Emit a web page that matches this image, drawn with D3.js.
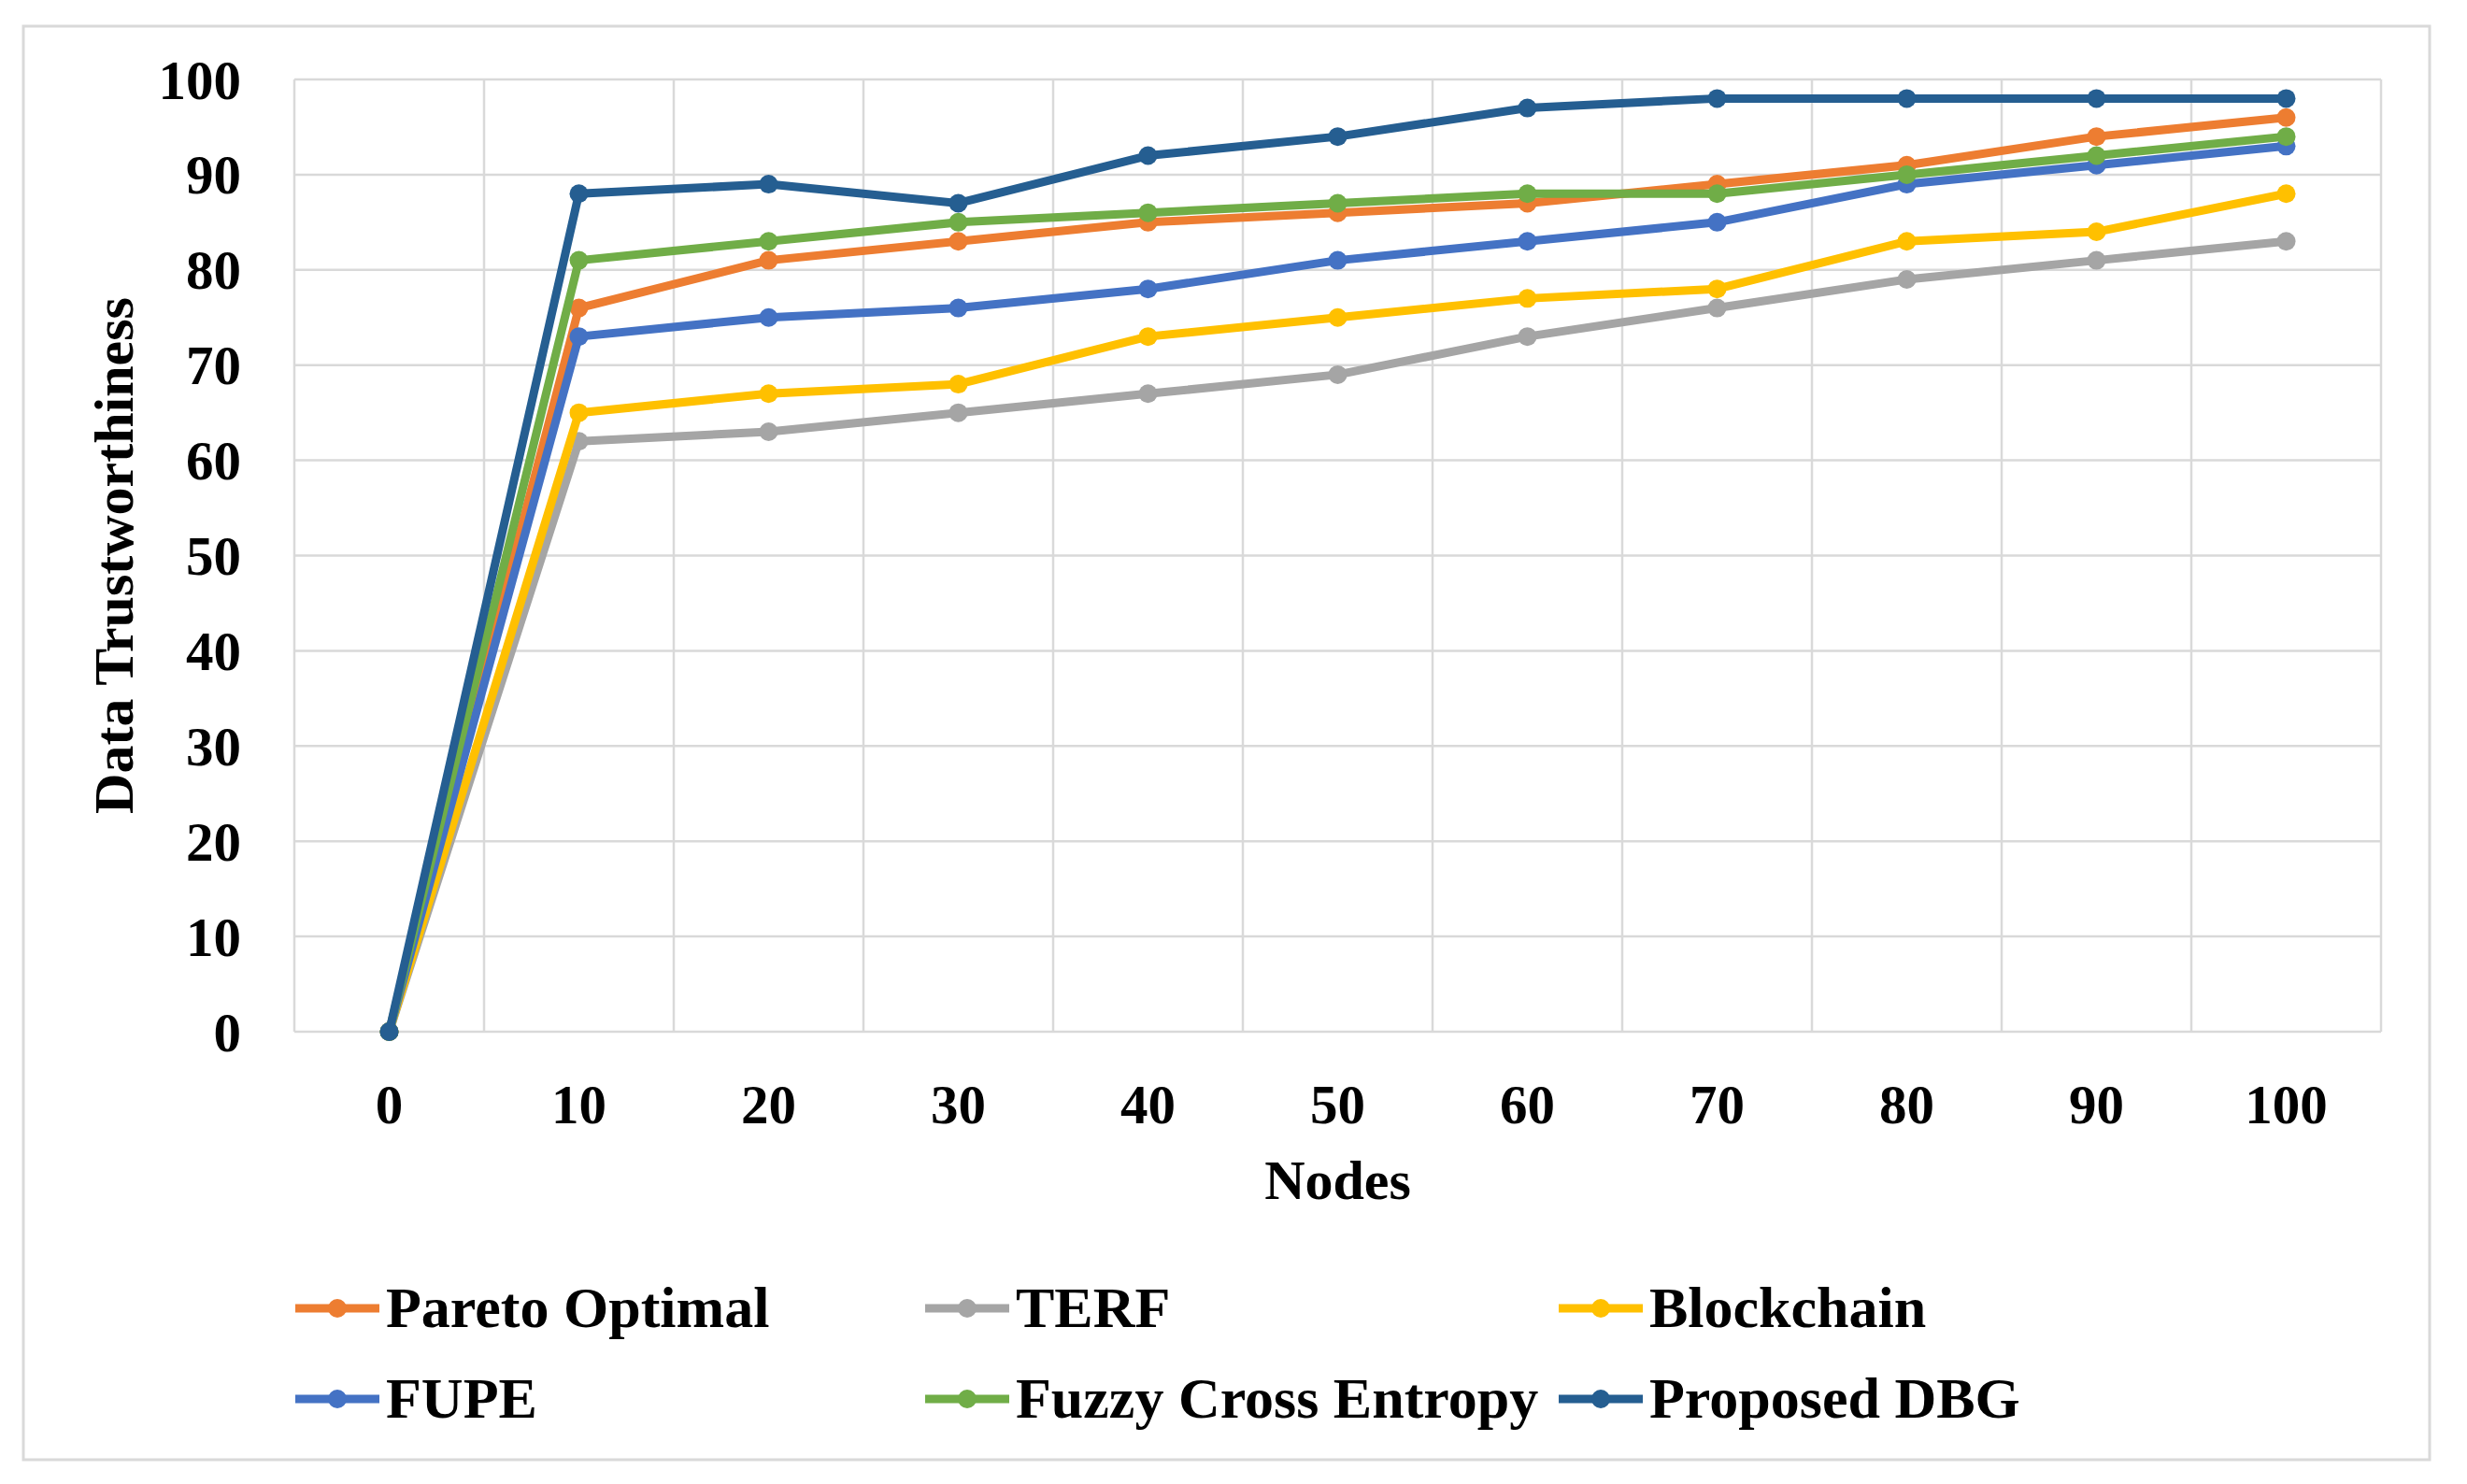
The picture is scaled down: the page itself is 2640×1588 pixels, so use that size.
<!DOCTYPE html>
<html>
<head>
<meta charset="utf-8">
<script src="https://cdn.jsdelivr.net/npm/d3@7/dist/d3.min.js"></script>
<style>
  html, body { margin: 0; padding: 0; background: #fff; }
  svg { display: block; }
  text { font-family: "Liberation Serif", "Times New Roman", serif; font-weight: bold; fill: #000; }
</style>
</head>
<body>
<svg id="chart" width="2640" height="1588"></svg>
<script>
const categories = ["0", "10", "20", "30", "40", "50", "60", "70", "80", "90", "100"];
const yTicks = [0, 10, 20, 30, 40, 50, 60, 70, 80, 90, 100];
const seriesNames = ["Pareto Optimal", "TERF", "Blockchain", "FUPE", "Fuzzy Cross Entropy", "Proposed DBG"];
const seriesColors = ["#ED7D31", "#A5A5A5", "#FFC000", "#4472C4", "#70AD47", "#255E91"];
const paretoOptimal = [0, 76, 81, 83, 85, 86, 87, 89, 91, 94, 96];
const terf = [0, 62, 63, 65, 67, 69, 73, 76, 79, 81, 83];
const blockchain = [0, 65, 67, 68, 73, 75, 77, 78, 83, 84, 88];
const fupe = [0, 73, 75, 76, 78, 81, 83, 85, 89, 91, 93];
const fuzzyCrossEntropy = [0, 81, 83, 85, 86, 87, 88, 88, 90, 92, 94];
const proposedDBG = [0, 88, 89, 87, 92, 94, 97, 98, 98, 98, 98];
const seriesValues = [paretoOptimal, terf, blockchain, fupe, fuzzyCrossEntropy, proposedDBG];

const svg = d3.select("#chart");
const plot = { left: 315, right: 2548, top: 85, bottom: 1104 };

// outer border
svg.append("rect").attr("x", 25).attr("y", 28).attr("width", 2575).attr("height", 1534)
  .attr("fill", "#fff").attr("stroke", "#d9d9d9").attr("stroke-width", 3);

const x = d3.scaleBand().domain(categories).range([plot.left, plot.right]).padding(0);
const y = d3.scaleLinear().domain([0, 100]).range([plot.bottom, plot.top]);

// gridlines
const grid = svg.append("g");
grid.selectAll("line.h").data(yTicks).join("line")
  .attr("x1", plot.left).attr("x2", plot.right)
  .attr("y1", d => y(d)).attr("y2", d => y(d))
  .attr("stroke", "#d9d9d9").attr("stroke-width", 2.5);
const bounds = categories.map(c => x(c)).concat([x(categories[categories.length - 1]) + x.bandwidth()]);
grid.selectAll("line.v").data(bounds).join("line")
  .attr("x1", d => d).attr("x2", d => d)
  .attr("y1", plot.top).attr("y2", plot.bottom)
  .attr("stroke", "#d9d9d9").attr("stroke-width", 2.5);

// axes
const yAxis = svg.append("g").attr("transform", `translate(${plot.left},0)`)
  .call(d3.axisLeft(y).tickValues(yTicks).tickSize(0).tickPadding(57));
yAxis.select(".domain").remove();
yAxis.selectAll("text").style("font-size", "59px").attr("dy", "0.34em");

const xAxis = svg.append("g").attr("transform", `translate(0,${plot.bottom})`)
  .call(d3.axisBottom(x).tickSize(0).tickPadding(56));
xAxis.select(".domain").remove();
xAxis.selectAll("text").style("font-size", "59px").attr("dy", "0.71em");

// axis titles
svg.append("text").attr("x", (plot.left + plot.right) / 2).attr("y", 1283)
  .attr("text-anchor", "middle").style("font-size", "60px").text("Nodes");
svg.append("text").attr("transform", `translate(142,${(plot.top + plot.bottom) / 2}) rotate(-90)`)
  .attr("text-anchor", "middle").style("font-size", "60px").text("Data Trustworthiness");

// lines
const line = d3.line().x((d, i) => x(categories[i]) + x.bandwidth() / 2).y(d => y(d));
seriesValues.forEach((vals, si) => {
  const g = svg.append("g");
  g.append("path").datum(vals).attr("d", line)
    .attr("fill", "none").attr("stroke", seriesColors[si]).attr("stroke-width", 9)
    .attr("stroke-linejoin", "round").attr("stroke-linecap", "round");
  g.selectAll("circle").data(vals).join("circle")
    .attr("cx", (d, i) => x(categories[i]) + x.bandwidth() / 2)
    .attr("cy", d => y(d)).attr("r", 10).attr("fill", seriesColors[si]);
});

// legend
const legCols = [316, 990, 1668];
const legRows = [1400, 1497];
seriesNames.forEach((name, i) => {
  const cx = legCols[i % 3], cy = legRows[Math.floor(i / 3)];
  const g = svg.append("g");
  g.append("line").attr("x1", cx).attr("x2", cx + 90).attr("y1", cy).attr("y2", cy)
    .attr("stroke", seriesColors[i]).attr("stroke-width", 9);
  g.append("circle").attr("cx", cx + 45).attr("cy", cy).attr("r", 10).attr("fill", seriesColors[i]);
  g.append("text").attr("x", cx + 97).attr("y", cy + 20).style("font-size", "62px").text(name);
});
</script>
</body>
</html>
